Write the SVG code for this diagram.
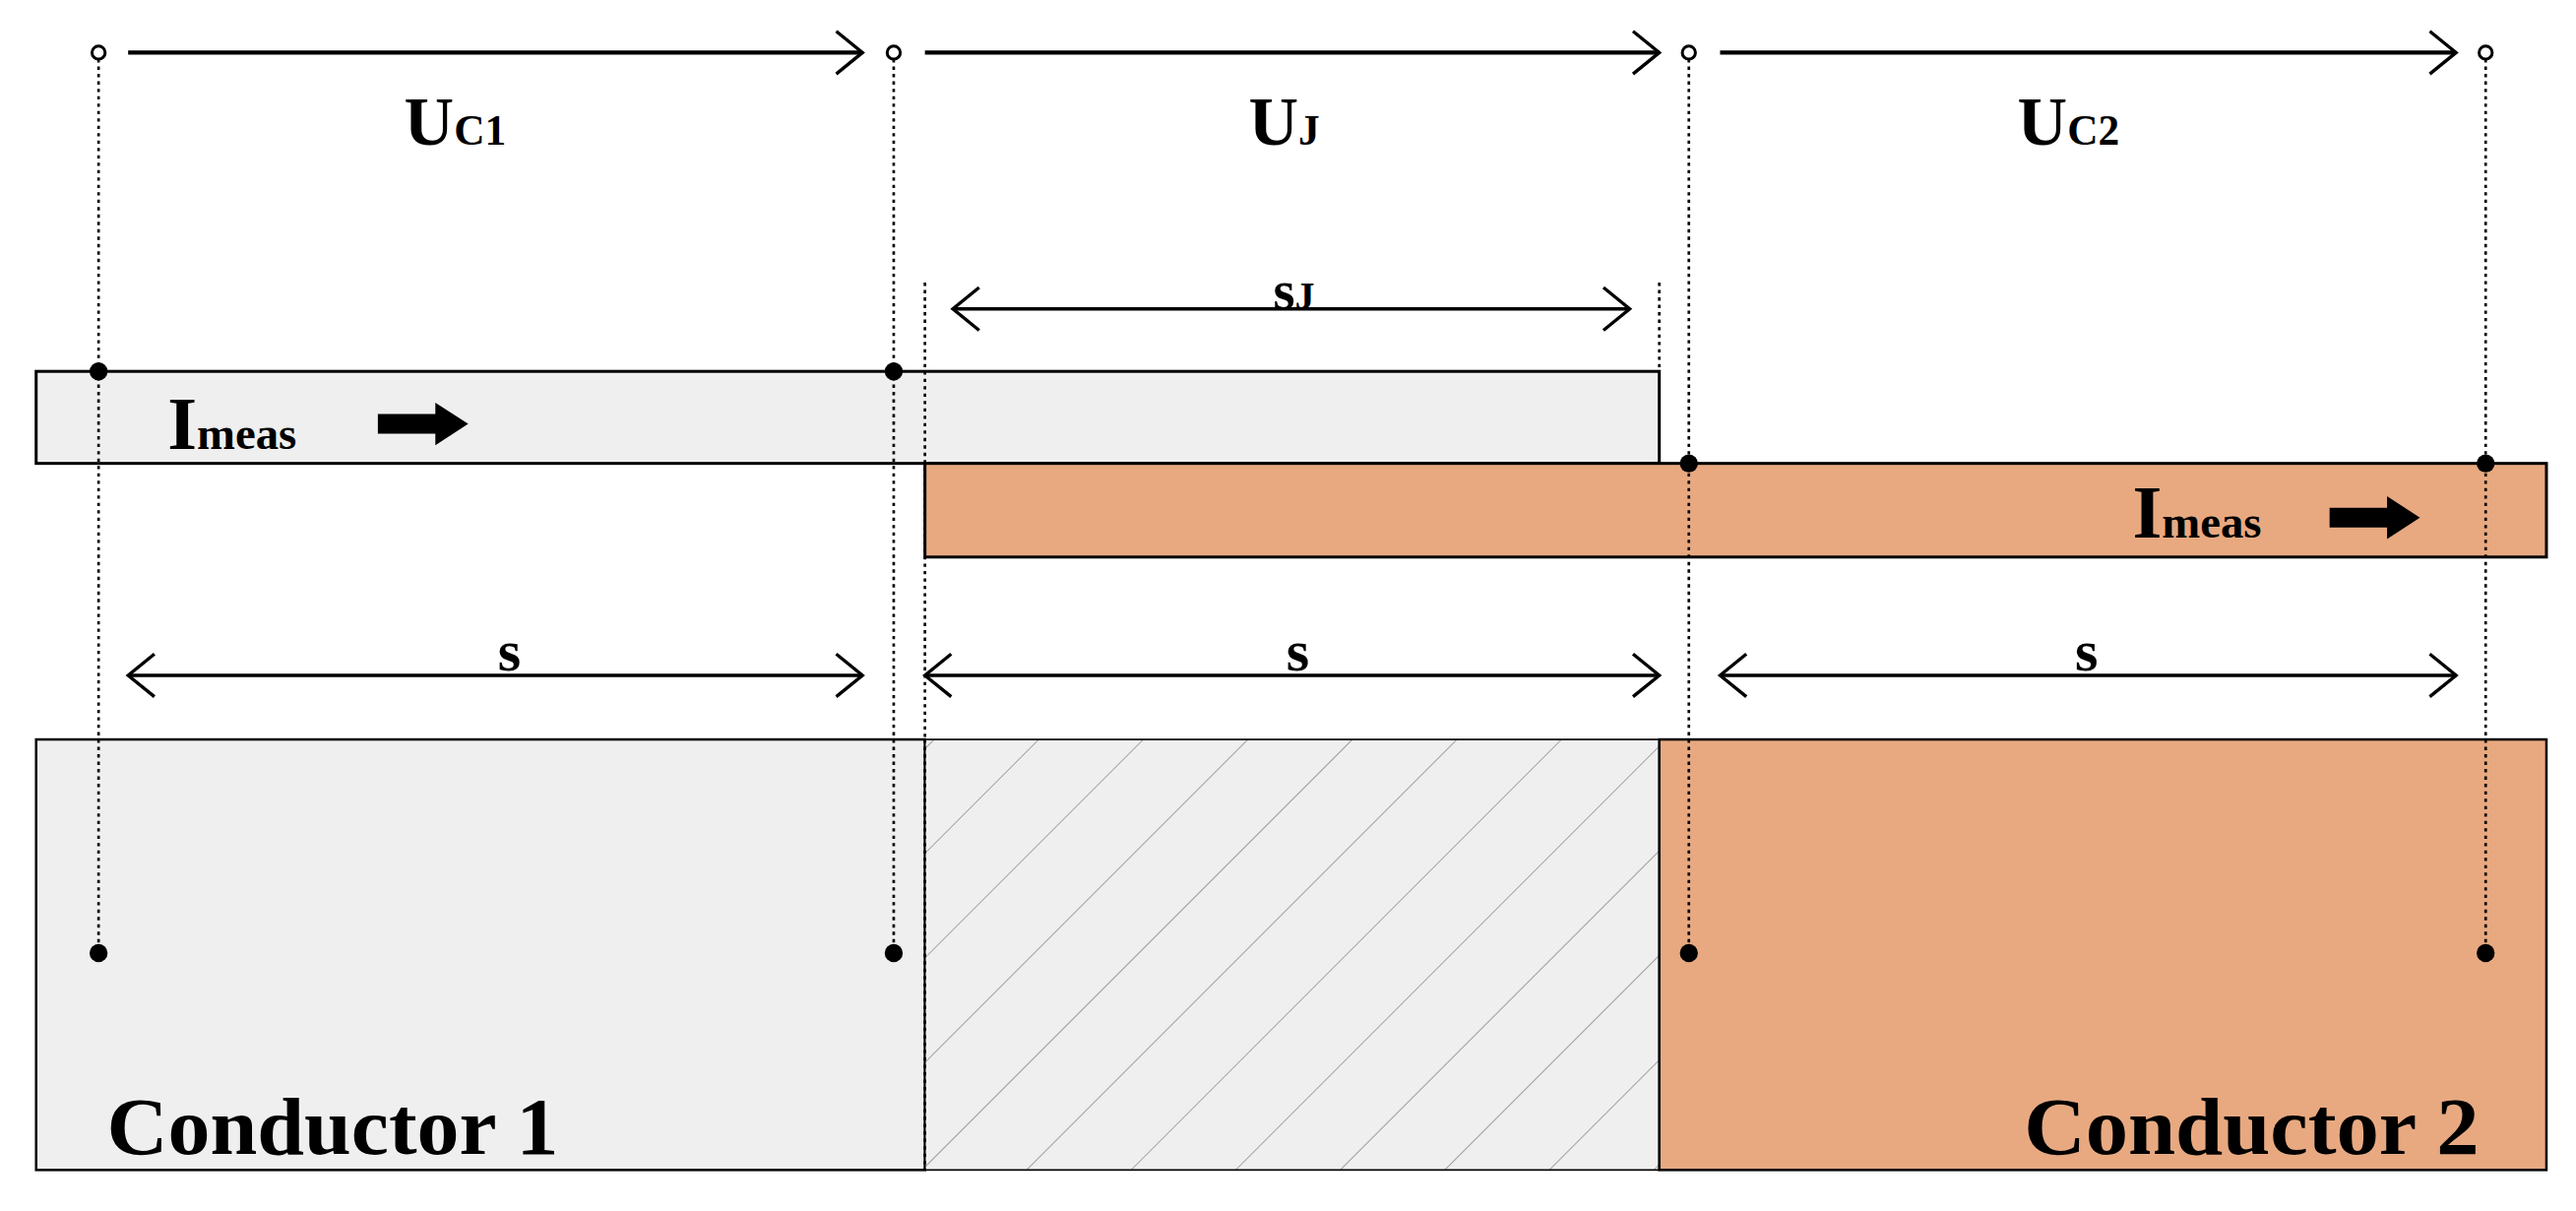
<svg xmlns="http://www.w3.org/2000/svg" width="2617" height="1230" viewBox="0 0 2617 1230">
<style>
.t{font-family:"Liberation Serif",serif;font-weight:bold;fill:#000}
.dot{stroke:#000;stroke-width:1.6;stroke-dasharray:2 2.5;fill:none}
.ln{stroke:#000;stroke-width:2.5;fill:none}
.hd{stroke:#000;stroke-width:2;fill:none}
</style>
<defs>
<pattern id="hatch" patternUnits="userSpaceOnUse" width="45" height="45" patternTransform="rotate(45)">
<line x1="0" y1="0" x2="0" y2="45" stroke="#777" stroke-width="0.8"/>
</pattern>
<marker id="ah" markerWidth="20" markerHeight="30" refX="18" refY="15" orient="auto-start-reverse" markerUnits="userSpaceOnUse">
<polyline points="2,2 18,15 2,28" fill="none" stroke="#000" stroke-width="2"/>
</marker>
</defs>
<rect width="2617" height="1230" fill="#fff"/>
<g transform="scale(1.66901)">
<g id="conductors">
<rect x="22" y="450" width="541" height="262" fill="#efefef" stroke="#000" stroke-width="1.5"/>
<rect x="563" y="450" width="447" height="262" fill="#efefef"/>
<rect x="563" y="450" width="447" height="262" fill="url(#hatch)" stroke="#000" stroke-width="1"/>
<rect x="1010" y="450" width="540" height="262" fill="#e8a981" stroke="#000" stroke-width="1.5"/>
<line x1="563" y1="450" x2="563" y2="712" class="dot"/>
<text class="t" x="65" y="702" font-size="50" textLength="275" lengthAdjust="spacingAndGlyphs">Conductor 1</text>
<text class="t" x="1232" y="702" font-size="50" textLength="277" lengthAdjust="spacingAndGlyphs">Conductor 2</text>
</g>
<g id="bar1">
<rect x="22" y="226" width="988" height="56" fill="#efefef" stroke="#000" stroke-width="1.8"/>
<text class="t" x="102" y="273" font-size="46">I<tspan font-size="28">meas</tspan></text>
<polygon points="230,252 265,252 265,245 285,258 265,271 265,264 230,264" fill="#000"/>
</g>
<g id="bar2">
<rect x="563" y="282" width="987" height="57" fill="#e8a981" stroke="#000" stroke-width="1.8"/>
<text class="t" x="1298" y="327" font-size="46">I<tspan font-size="28">meas</tspan></text>
<polygon points="1418,309 1453,309 1453,302 1473,315 1453,328 1453,321 1418,321" fill="#000"/>
</g>
<g id="connectors">
<line x1="60" y1="36" x2="60" y2="580" class="dot"/>
<line x1="544" y1="36" x2="544" y2="580" class="dot"/>
<line x1="1028" y1="36" x2="1028" y2="580" class="dot"/>
<line x1="1513" y1="36" x2="1513" y2="580" class="dot"/>
<line x1="563" y1="172" x2="563" y2="450" class="dot"/>
<line x1="1010" y1="172" x2="1010" y2="226" class="dot"/>
<line x1="78" y1="32" x2="525" y2="32" class="ln" marker-end="url(#ah)"/>
<line x1="563" y1="32" x2="1010" y2="32" class="ln" marker-end="url(#ah)"/>
<line x1="1047" y1="32" x2="1495" y2="32" class="ln" marker-end="url(#ah)"/>
<line x1="580" y1="188" x2="992" y2="188" class="hd" marker-start="url(#ah)" marker-end="url(#ah)"/>
<line x1="78" y1="411" x2="525" y2="411" class="hd" marker-start="url(#ah)" marker-end="url(#ah)"/>
<line x1="563" y1="411" x2="1010" y2="411" class="hd" marker-start="url(#ah)" marker-end="url(#ah)"/>
<line x1="1047" y1="411" x2="1495" y2="411" class="hd" marker-start="url(#ah)" marker-end="url(#ah)"/>
<g fill="#fff" stroke="#000" stroke-width="1.8">
<circle cx="60" cy="32" r="4"/><circle cx="544" cy="32" r="4"/><circle cx="1028" cy="32" r="4"/><circle cx="1513" cy="32" r="4"/>
</g>
<g fill="#000">
<circle cx="60" cy="226" r="5.5"/><circle cx="544" cy="226" r="5.5"/><circle cx="1028" cy="282" r="5.5"/><circle cx="1513" cy="282" r="5.5"/>
<circle cx="60" cy="580" r="5.5"/><circle cx="544" cy="580" r="5.5"/><circle cx="1028" cy="580" r="5.5"/><circle cx="1513" cy="580" r="5.5"/>
</g>
</g>
<g id="labels">
<text class="t" x="246" y="88" font-size="42">U<tspan font-size="26">C1</tspan></text>
<text class="t" x="760" y="88" font-size="42">U<tspan font-size="26">J</tspan></text>
<text class="t" x="1228" y="88" font-size="42">U<tspan font-size="26">C2</tspan></text>
<text class="t" x="775" y="188" font-size="34">s<tspan font-size="24">J</tspan></text>
<text class="t" x="310" y="408" font-size="36" text-anchor="middle">s</text>
<text class="t" x="790" y="408" font-size="36" text-anchor="middle">s</text>
<text class="t" x="1270" y="408" font-size="36" text-anchor="middle">s</text>
</g>
</g>
</svg>
